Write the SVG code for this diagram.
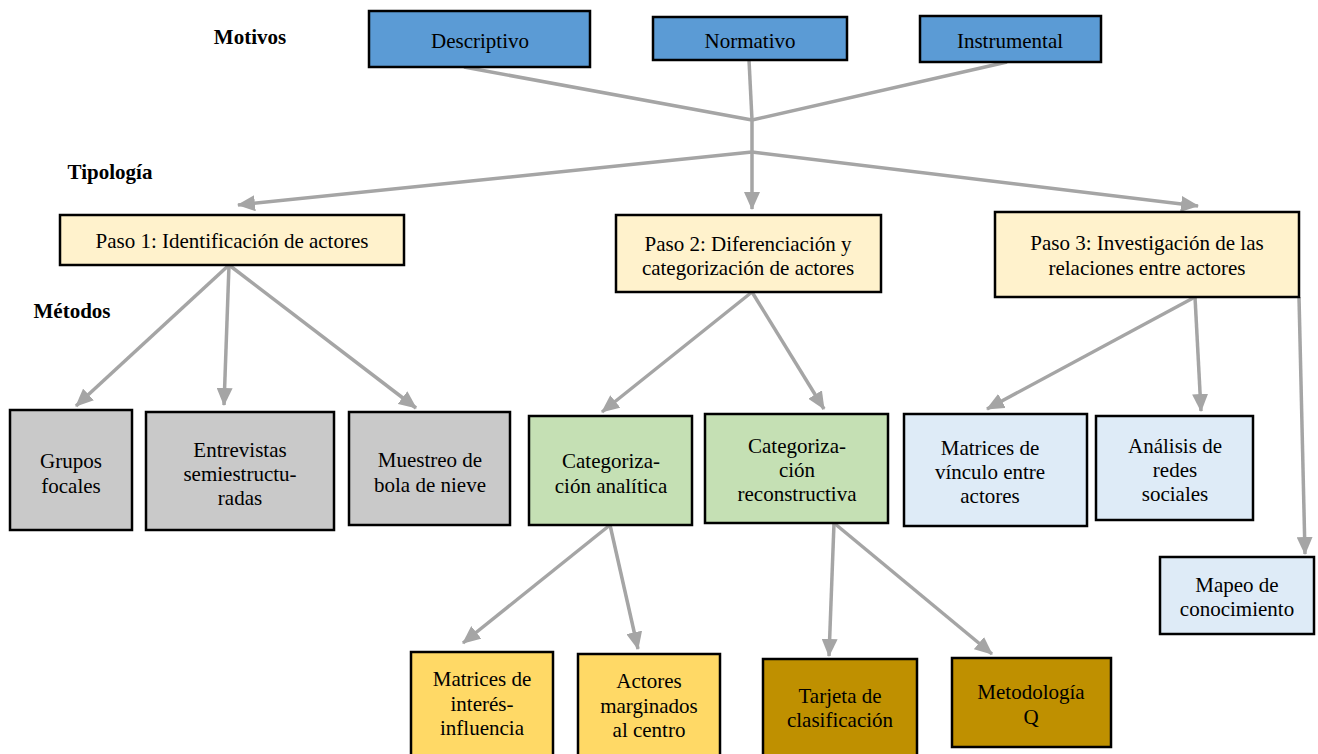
<svg xmlns="http://www.w3.org/2000/svg" width="1318" height="754" viewBox="0 0 1318 754" font-family="'Liberation Serif', 'Times New Roman', serif">
<defs>
<marker id="ah" markerUnits="userSpaceOnUse" markerWidth="18" markerHeight="16" refX="17" refY="8" orient="auto">
<path d="M0,0 L18,8 L0,16 z" fill="#a5a5a5"/>
</marker>
<style>
text{font-family:'Liberation Serif','Times New Roman',serif;font-size:21px;fill:#000;text-anchor:middle;dominant-baseline:central}
.lbl{font-weight:bold;font-size:21px}
.n rect{stroke:#000;stroke-width:2.5}
.blue{fill:#5b9bd5}
.cream{fill:#fff2cc}
.gray{fill:#c9c9c9}
.green{fill:#c5e0b4}
.lblue{fill:#deebf7}
.yel{fill:#ffd966}
.gold{fill:#bf9000}
.c line{stroke:#a5a5a5;stroke-width:3.5;fill:none}
.c .a{marker-end:url(#ah)}
</style>
</defs>
<rect x="0" y="0" width="1318" height="754" fill="#fff"/>
<g id="labels">
<text class="lbl" x="250" y="37">Motivos</text>
<text class="lbl" x="110" y="172">Tipología</text>
<text class="lbl" x="72" y="311">Métodos</text>
</g>
<g class="c" id="connectors">
<line x1="464" y1="67" x2="752" y2="120"/>
<line x1="749" y1="60" x2="752" y2="120"/>
<line x1="1007" y1="62" x2="752" y2="120"/>
<line x1="752" y1="120" x2="752" y2="152"/>
<line class="a" x1="752" y1="152" x2="238" y2="205"/>
<line class="a" x1="752" y1="152" x2="752" y2="209"/>
<line class="a" x1="752" y1="152" x2="1198" y2="206"/>
<line class="a" x1="229" y1="265" x2="76" y2="406"/>
<line class="a" x1="229" y1="265" x2="224" y2="405"/>
<line class="a" x1="229" y1="265" x2="416" y2="408"/>
<line class="a" x1="752" y1="292" x2="602" y2="412"/>
<line class="a" x1="752" y1="292" x2="824" y2="409"/>
<line class="a" x1="1195" y1="297" x2="987" y2="409"/>
<line class="a" x1="1195" y1="297" x2="1201" y2="411"/>
<line class="a" x1="1299" y1="297" x2="1305" y2="554"/>
<line class="a" x1="610" y1="525" x2="463" y2="643"/>
<line class="a" x1="610" y1="525" x2="638" y2="649"/>
<line class="a" x1="834" y1="523" x2="829" y2="656"/>
<line class="a" x1="834" y1="523" x2="992" y2="654"/>
</g>
<g class="n" id="descriptivo"><rect class="blue" x="369" y="11" width="221" height="56"/><text x="480" y="41">Descriptivo</text></g>
<g class="n" id="normativo"><rect class="blue" x="653" y="17" width="194" height="43"/><text x="750" y="41">Normativo</text></g>
<g class="n" id="instrumental"><rect class="blue" x="920" y="16" width="181" height="46"/><text x="1010" y="41">Instrumental</text></g>
<g class="n" id="paso1"><rect class="cream" x="60" y="215" width="344" height="50"/><text x="232" y="241">Paso 1: Identificación de actores</text></g>
<g class="n" id="paso2"><rect class="cream" x="616" y="215" width="265" height="77"/><text x="748" y="244">Paso 2: Diferenciación y</text><text x="748" y="268">categorización de actores</text></g>
<g class="n" id="paso3"><rect class="cream" x="995" y="212" width="304" height="85"/><text x="1147" y="243">Paso 3: Investigación de las</text><text x="1147" y="268">relaciones entre actores</text></g>
<g class="n" id="grupos"><rect class="gray" x="10" y="410" width="122" height="120"/><text x="71" y="461">Grupos</text><text x="71" y="486">focales</text></g>
<g class="n" id="entrevistas"><rect class="gray" x="146" y="412" width="188" height="118"/><text x="240" y="450">Entrevistas</text><text x="240" y="474">semiestructu-</text><text x="240" y="498">radas</text></g>
<g class="n" id="muestreo"><rect class="gray" x="349" y="412" width="161" height="113"/><text x="430" y="460">Muestreo de</text><text x="430" y="485">bola de nieve</text></g>
<g class="n" id="cat-analitica"><rect class="green" x="529" y="416" width="163" height="109"/><text x="611" y="461">Categoriza-</text><text x="611" y="486">ción analítica</text></g>
<g class="n" id="cat-reconstructiva"><rect class="green" x="705" y="414" width="183" height="109"/><text x="797" y="446">Categoriza-</text><text x="797" y="470">ción</text><text x="797" y="494">reconstructiva</text></g>
<g class="n" id="matrices-vinculo"><rect class="lblue" x="904" y="414" width="183" height="112"/><text x="990" y="448">Matrices de</text><text x="990" y="472">vínculo entre</text><text x="990" y="496">actores</text></g>
<g class="n" id="analisis-redes"><rect class="lblue" x="1096" y="416" width="157" height="104"/><text x="1175" y="446">Análisis de</text><text x="1175" y="470">redes</text><text x="1175" y="494">sociales</text></g>
<g class="n" id="mapeo"><rect class="lblue" x="1160" y="557" width="154" height="77"/><text x="1237" y="585">Mapeo de</text><text x="1237" y="609">conocimiento</text></g>
<g class="n" id="matrices-interes"><rect class="yel" x="411" y="652" width="142" height="104"/><text x="482" y="679">Matrices de</text><text x="482" y="704">interés-</text><text x="482" y="728">influencia</text></g>
<g class="n" id="actores-marginados"><rect class="yel" x="578" y="654" width="142" height="102"/><text x="649" y="681">Actores</text><text x="649" y="706">marginados</text><text x="649" y="730">al centro</text></g>
<g class="n" id="tarjeta"><rect class="gold" x="763" y="659" width="154" height="97"/><text x="840" y="696">Tarjeta de</text><text x="840" y="720">clasificación</text></g>
<g class="n" id="metodologia-q"><rect class="gold" x="952" y="658" width="159" height="89"/><text x="1031" y="692">Metodología</text><text x="1031" y="717">Q</text></g>
</svg>
